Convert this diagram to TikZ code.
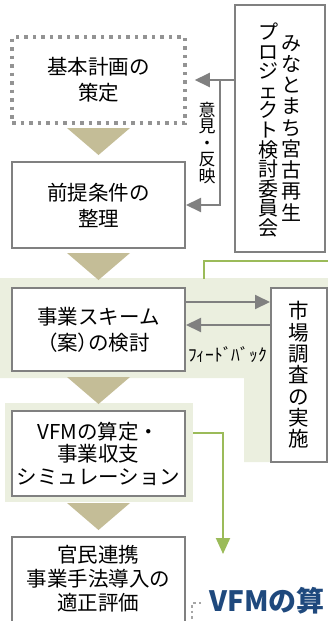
\documentclass[tikz,border=0pt]{standalone}
\usepackage{fontspec}
\setmainfont{Noto Sans CJK JP}
\usetikzlibrary{arrows.meta,calc}
\definecolor{boxgray}{HTML}{808080}
\definecolor{tanc}{HTML}{C4BD97}
\definecolor{lightbg}{HTML}{EBEFDF}
\definecolor{olivec}{HTML}{9BBB59}
\definecolor{navyc}{HTML}{1F497D}
\newcommand{\fs}[2]{\fontsize{#1}{#2}\selectfont\lineskiplimit=-30pt\relax}
\begin{document}
\begin{tikzpicture}[x=1pt,y=-1pt,
  box/.style={draw=boxgray, line width=2pt, fill=white, minimum width=173pt,
    inner sep=0pt, align=center, font=\fs{20.5}{26}},
  dotbox/.style={box, draw=boxgray!85, line width=3.5pt, dash pattern=on 3.5pt off 5pt},
  vbox/.style={draw=boxgray, line width=2pt, fill=white, inner sep=0pt, align=center},
  vtext/.style={align=center, inner sep=0pt},
  garr/.style={draw=boxgray, line width=2pt, -{Triangle[length=15pt,width=14pt]}},
  oarr/.style={draw=olivec, line width=2pt, -{Triangle[length=16pt,width=14pt]}}
]
\useasboundingbox (0,0) rectangle (328,621);
\clip (0,0) rectangle (328,621);
% light backgrounds
\fill[lightbg] (0,278) -- (328,278) -- (328,462) -- (244,462) -- (244,378) -- (0,378) -- cycle;
\fill[lightbg] (5,403) rectangle (193,502);
% olive line at top of region
\draw[olivec, line width=2pt] (330,261) -- (204,261) -- (204,279);
% down triangles
\foreach \yy in {128,253,377,503}
  \fill[tanc] (67,\yy) -- (130,\yy) -- (98.5,\yy+27) -- cycle;
% left column boxes
\node[dotbox, minimum height=86pt] (b1) at (98.5,80) {基本計画の\\策定};
\node[box, minimum height=86pt] (b2) at (98.5,205) {前提条件の\\整理};
\node[box, minimum height=83pt] (b3) at (98.5,329.5) {事業スキーム\\{\addfontfeatures{RawFeature=+palt}（案）}の検討};
\node[box, minimum height=85pt, font=\fs{20.5}{22.5}] (b4) at (98.5,453.5) {VFMの算定・\\事業収支\\シミュレーション};
\node[box, minimum height=103pt] (b5) at (98.5,588.5) {};
\node[vtext, font=\fs{20.5}{24}] (t5) at (98.5,579) {官民連携\\事業手法導入の\\適正評価};
% committee box
\node[vbox, minimum width=90pt, minimum height=247pt] (comm) at (280,128.5) {};
\node[vtext, font=\fs{20}{21.25}] (cr) at (291,128) {み\\な\\と\\ま\\ち\\宮\\古\\再\\生};
\node[vtext, font=\fs{20}{19.6}] (cl) at (268,130) {プ\\ロ\\ジ\\ェ\\ク\\ト\\検\\討\\委\\員\\会};
% market research box
\node[vbox, minimum width=56pt, minimum height=174pt, font=\fs{20.5}{21.3}] (mk) at (299,375) {市\\場\\調\\査\\の\\実\\施};
% opinion arrows
\coordinate (j) at (220,80);
\draw[garr] (comm.west |- j) -- ([xshift=8pt]b1.east);
\draw[garr] (j) |- (b2.east);
\node[vtext, font=\fs{17}{16.5}] (op) at (207,143) {意\\見\\・\\反\\映};
% feedback arrows
\coordinate (fa) at ([yshift=27.5pt]b3.east);
\coordinate (fb) at ([yshift=4.5pt]b3.east);
\draw[garr] (fa) -- (fa -| mk.west);
\draw[garr] (fb -| mk.west) -- (fb);
\node[inner sep=0pt, font=\fs{17.5}{17.5}] (fbl) at (227.5,355) {ﾌｨｰﾄﾞﾊﾞｯｸ};
% olive arrow
\coordinate (oa) at ([xshift=7pt,yshift=20.5pt]b4.east);
\coordinate (ot) at (223,554);
\draw[oarr] (oa) -| (ot);
% bottom partial heading
\draw[boxgray!70, line width=2.5pt, dash pattern=on 2.5pt off 3pt] (201,603) -- (192,603) -- (192,625);
\node[anchor=base west, inner sep=0pt, text=navyc, font=\fs{28}{28}\bfseries] (vfm) at (209,611) {VFMの算};
\end{tikzpicture}
\end{document}
